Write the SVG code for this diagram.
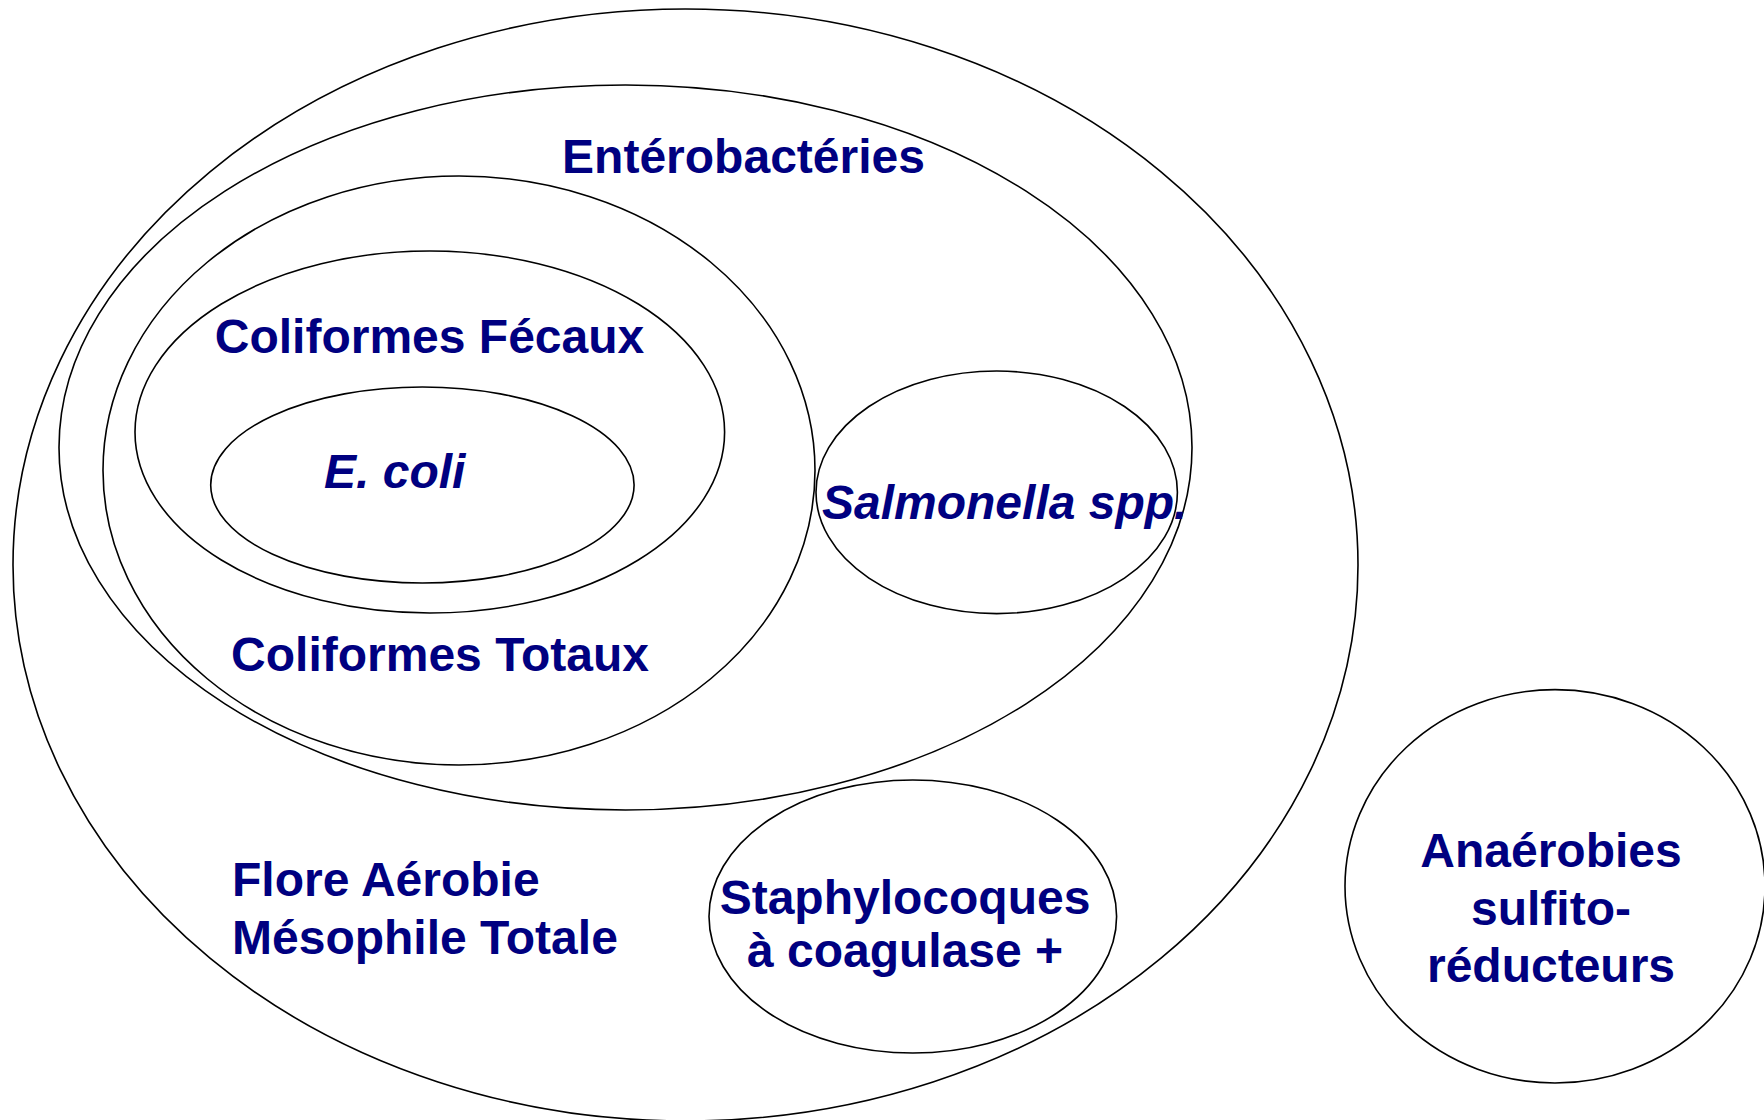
<svg xmlns="http://www.w3.org/2000/svg" width="1764" height="1120" viewBox="0 0 1764 1120">
<style>
.e{fill:none;stroke:#000;stroke-width:1.6}
.t{font-family:"Liberation Sans",Arial,sans-serif;font-weight:bold;font-size:48px;fill:#000080}
.i{font-style:italic}
</style>
<rect width="1764" height="1120" fill="#fff"/>
<g id="flore">
<ellipse class="e" cx="685.5" cy="565" rx="672.5" ry="556"/>
<text class="t" x="232" y="896">Flore Aérobie</text>
<text class="t" x="232" y="954">Mésophile Totale</text>
</g>
<g id="enterobacteries">
<ellipse class="e" cx="625.5" cy="447.5" rx="566.5" ry="362.5"/>
<text class="t" x="743.5" y="172.5" text-anchor="middle">Entérobactéries</text>
</g>
<g id="coliformes-totaux">
<ellipse class="e" cx="459" cy="470.5" rx="356" ry="294.5"/>
<text class="t" x="440" y="670.5" text-anchor="middle">Coliformes Totaux</text>
</g>
<g id="coliformes-fecaux">
<ellipse class="e" cx="429.8" cy="432" rx="294.8" ry="181"/>
<text class="t" x="429.5" y="353" text-anchor="middle">Coliformes Fécaux</text>
</g>
<g id="ecoli">
<ellipse class="e" cx="422.4" cy="485" rx="211.7" ry="98"/>
<text class="t i" x="324" y="488">E. coli</text>
</g>
<g id="salmonella">
<ellipse class="e" cx="996.7" cy="492.3" rx="180.7" ry="121.3"/>
<text class="t i" x="822" y="519">Salmonella spp.</text>
</g>
<g id="staphylocoques">
<ellipse class="e" cx="912.8" cy="916.5" rx="203.8" ry="136.5"/>
<text class="t" x="905" y="913.5" text-anchor="middle">Staphylocoques</text>
<text class="t" x="905" y="967" text-anchor="middle">à coagulase +</text>
</g>
<g id="anaerobies">
<ellipse class="e" cx="1555" cy="886.3" rx="210" ry="196.7"/>
<text class="t" x="1551" y="866.5" text-anchor="middle">Anaérobies</text>
<text class="t" x="1551" y="925" text-anchor="middle">sulfito-</text>
<text class="t" x="1551" y="981.5" text-anchor="middle">réducteurs</text>
</g>
<g id="connectors"></g>
</svg>
